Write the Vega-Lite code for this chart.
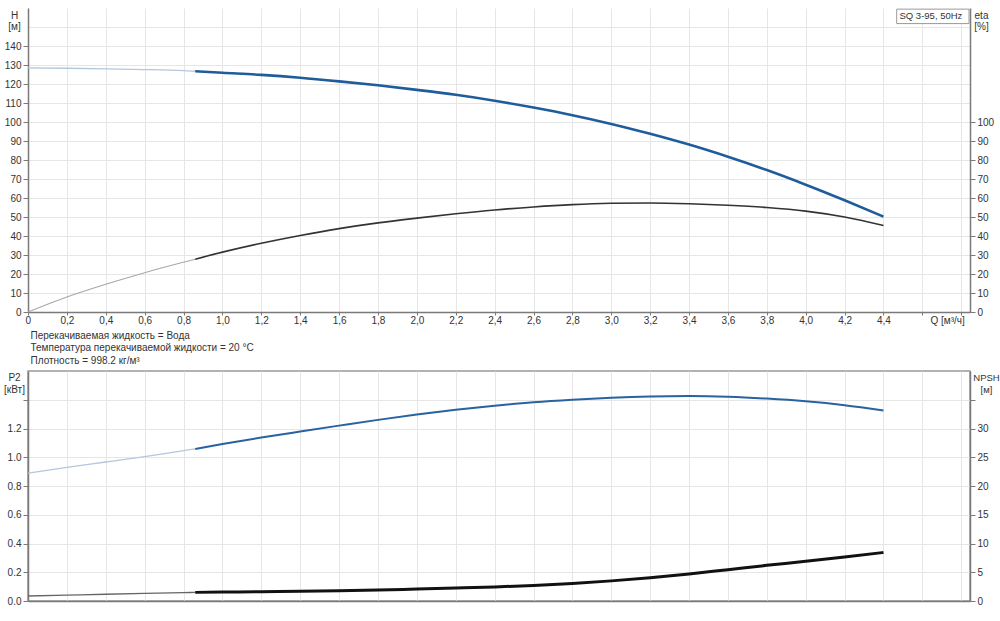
{
  "$schema": "https://vega.github.io/schema/vega-lite/v6.json",
  "background": "white",
  "padding": {"left": 2, "top": 8, "right": 0, "bottom": 0},
  "config": {
    "font": "Liberation Sans",
    "view": {"stroke": null},
    "axis": {
      "labelFont": "Liberation Sans",
      "labelFontSize": 10,
      "labelColor": "#333333",
      "domainColor": "#7a7a7a",
      "domainWidth": 1.5,
      "tickColor": "#7a7a7a",
      "tickSize": 5,
      "labelPadding": 2,
      "gridColor": "#e6e6e6",
      "gridWidth": 1,
      "titleFont": "Liberation Sans",
      "titleFontWeight": "normal",
      "titleFontSize": 10,
      "titleColor": "#333333"
    }
  },
  "datasets": {
    "curves": [
      {"Q": 0, "H": 128.5, "eta": 0, "P2": 0.889, "NPSH": 0.87, "part": "a"},
      {"Q": 0.2, "H": 128.3, "eta": 7.9, "P2": 0.930, "NPSH": 1.02, "part": "a"},
      {"Q": 0.4, "H": 128.0, "eta": 14.6, "P2": 0.967, "NPSH": 1.17, "part": "a"},
      {"Q": 0.6, "H": 127.6, "eta": 20.7, "P2": 1.005, "NPSH": 1.31, "part": "a"},
      {"Q": 0.8, "H": 127.0, "eta": 26.2, "P2": 1.046, "NPSH": 1.45, "part": "a"},
      {"Q": 0.86, "H": 126.7, "eta": 27.8, "P2": 1.058, "NPSH": 1.50, "part": "a"},
      {"Q": 0.86, "H": 126.7, "eta": 27.8, "P2": 1.058, "NPSH": 1.50, "part": "b"},
      {"Q": 1.0, "H": 125.9, "eta": 31.5, "P2": 1.092, "NPSH": 1.55, "part": "b"},
      {"Q": 1.2, "H": 124.8, "eta": 36.2, "P2": 1.137, "NPSH": 1.62, "part": "b"},
      {"Q": 1.4, "H": 123.3, "eta": 40.3, "P2": 1.179, "NPSH": 1.70, "part": "b"},
      {"Q": 1.6, "H": 121.4, "eta": 43.9, "P2": 1.220, "NPSH": 1.80, "part": "b"},
      {"Q": 1.8, "H": 119.3, "eta": 46.9, "P2": 1.260, "NPSH": 1.92, "part": "b"},
      {"Q": 2.0, "H": 116.9, "eta": 49.4, "P2": 1.297, "NPSH": 2.07, "part": "b"},
      {"Q": 2.2, "H": 114.3, "eta": 51.7, "P2": 1.330, "NPSH": 2.25, "part": "b"},
      {"Q": 2.4, "H": 111.2, "eta": 53.7, "P2": 1.358, "NPSH": 2.45, "part": "b"},
      {"Q": 2.6, "H": 107.6, "eta": 55.3, "P2": 1.382, "NPSH": 2.70, "part": "b"},
      {"Q": 2.8, "H": 103.6, "eta": 56.5, "P2": 1.400, "NPSH": 3.05, "part": "b"},
      {"Q": 3.0, "H": 99.0, "eta": 57.2, "P2": 1.414, "NPSH": 3.50, "part": "b"},
      {"Q": 3.2, "H": 93.8, "eta": 57.4, "P2": 1.423, "NPSH": 4.05, "part": "b"},
      {"Q": 3.4, "H": 88.1, "eta": 57.0, "P2": 1.426, "NPSH": 4.70, "part": "b"},
      {"Q": 3.6, "H": 81.7, "eta": 56.2, "P2": 1.421, "NPSH": 5.45, "part": "b"},
      {"Q": 3.8, "H": 74.7, "eta": 55.0, "P2": 1.408, "NPSH": 6.20, "part": "b"},
      {"Q": 4.0, "H": 67.0, "eta": 53.1, "P2": 1.389, "NPSH": 6.92, "part": "b"},
      {"Q": 4.2, "H": 58.8, "eta": 50.0, "P2": 1.362, "NPSH": 7.67, "part": "b"},
      {"Q": 4.4, "H": 50.2, "eta": 45.5, "P2": 1.326, "NPSH": 8.44, "part": "b"}
    ]
  },
  "bounds": "flush",
  "spacing": 59,
  "vconcat": [
    {
      "width": 942,
      "height": 304,
      "data": {"name": "curves"},
      "layer": [
        {
          "transform": [{"filter": "datum.part == 'a'"}],
          "mark": {"type": "line", "color": "#b3c7de", "strokeWidth": 1.3, "interpolate": "monotone"},
          "encoding": {
            "x": {
              "field": "Q",
              "type": "quantitative",
              "scale": {"domain": [0, 4.845], "nice": false, "zero": false},
              "axis": {
                "values": [0, 0.2, 0.4, 0.6, 0.8, 1.0, 1.2, 1.4, 1.6, 1.8, 2.0, 2.2, 2.4, 2.6, 2.8, 3.0, 3.2, 3.4, 3.6, 3.8, 4.0, 4.2, 4.4, 4.6, 4.8],
                "labelExpr": "datum.value > 4.7 ? 'Q [м³/ч]' : (datum.value > 4.5 ? '' : (datum.value < 0.01 ? '0' : (floor(datum.value + 0.001) + ',' + round((datum.value - floor(datum.value + 0.001)) * 10))))",
                "labelFlush": 12,
                "labelFlushOffset": 3,
                "labelOverlap": false,
                "grid": true,
                "tickSize": 3,
                "labelPadding": 0,
                "title": ["Перекачиваемая жидкость = Вода", "Температура перекачиваемой жидкости = 20 °C", "Плотность = 998.2 кг/м³"],
                "titleAnchor": "start",
                "titleAlign": "left",
                "titleBaseline": "top",
                "titleX": 2,
                "titleY": 18,
                "titleLineHeight": 12.7
              }
            },
            "y": {"field": "H", "type": "quantitative", "scale": {"domain": [0, 160], "nice": false}, "axis": null}
          }
        },
        {
          "transform": [{"filter": "datum.part == 'b'"}],
          "mark": {"type": "line", "color": "#1f5c9b", "strokeWidth": 2.6, "interpolate": "monotone"},
          "encoding": {
            "x": {"field": "Q", "type": "quantitative", "scale": {"domain": [0, 4.845], "nice": false, "zero": false}, "axis": null},
            "y": {
              "field": "H",
              "type": "quantitative",
              "scale": {"domain": [0, 160], "nice": false},
              "axis": {
                "orient": "left",
                "values": [0, 10, 20, 30, 40, 50, 60, 70, 80, 90, 100, 110, 120, 130, 140, 150],
                "labelExpr": "datum.value > 145 ? '' : datum.label",
                "tickOpacity": {"condition": {"test": "datum.value > 145", "value": 0}, "value": 1},
                "grid": true,
                "title": ["H", "[м]"],
                "titleAngle": 0,
                "titleAlign": "center",
                "titleBaseline": "top",
                "titleX": -14,
                "titleY": 2,
                "titleLineHeight": 11.5
              }
            }
          }
        },
        {
          "transform": [{"filter": "datum.part == 'a'"}],
          "mark": {"type": "line", "color": "#a8a8a8", "strokeWidth": 1.1, "interpolate": "monotone"},
          "encoding": {
            "x": {"field": "Q", "type": "quantitative", "scale": {"domain": [0, 4.845], "nice": false, "zero": false}, "axis": null},
            "y": {"field": "eta", "type": "quantitative", "scale": {"domain": [0, 160], "nice": false}, "axis": null}
          }
        },
        {
          "transform": [{"filter": "datum.part == 'b'"}],
          "mark": {"type": "line", "color": "#333333", "strokeWidth": 1.6, "interpolate": "monotone"},
          "encoding": {
            "x": {"field": "Q", "type": "quantitative", "scale": {"domain": [0, 4.845], "nice": false, "zero": false}, "axis": null},
            "y": {
              "field": "eta",
              "type": "quantitative",
              "scale": {"domain": [0, 160], "nice": false},
              "axis": {
                "orient": "right",
                "values": [0, 10, 20, 30, 40, 50, 60, 70, 80, 90, 100],
                "grid": false,
                "title": ["eta", "[%]"],
                "titleAngle": 0,
                "titleAlign": "center",
                "titleBaseline": "top",
                "titleX": 11,
                "titleY": 2,
                "titleLineHeight": 11.5
              }
            }
          }
        },
        {
          "data": {"values": [{"label": "SQ 3-95, 50Hz"}]},
          "mark": {"type": "rect", "fill": "white", "stroke": "#9a9a9a", "strokeWidth": 1},
          "encoding": {
            "x": {"datum": 4.468, "type": "quantitative", "scale": {"domain": [0, 4.845], "nice": false, "zero": false}, "axis": null},
            "x2": {"datum": 4.84},
            "y": {"datum": 159.4, "type": "quantitative", "scale": {"domain": [0, 160], "nice": false}, "axis": null},
            "y2": {"datum": 151.8}
          }
        },
        {
          "data": {"values": [{"label": "SQ 3-95, 50Hz"}]},
          "mark": {"type": "text", "fontSize": 9.5, "color": "#333333", "align": "center", "baseline": "middle"},
          "encoding": {
            "x": {"datum": 4.644, "type": "quantitative", "scale": {"domain": [0, 4.845], "nice": false, "zero": false}, "axis": null},
            "y": {"datum": 155.8, "type": "quantitative", "scale": {"domain": [0, 160], "nice": false}, "axis": null},
            "text": {"field": "label"}
          }
        }
      ],
      "resolve": {"scale": {"x": "independent"}, "axis": {"x": "independent", "y": "independent"}}
    },
    {
      "width": 942,
      "height": 230,
      "view": {"stroke": "#999999", "strokeWidth": 1.5},
      "data": {"name": "curves"},
      "encoding": {
        "x": {
          "field": "Q",
          "type": "quantitative",
          "scale": {"domain": [0, 4.845], "nice": false, "zero": false},
          "axis": {
            "values": [0, 0.2, 0.4, 0.6, 0.8, 1.0, 1.2, 1.4, 1.6, 1.8, 2.0, 2.2, 2.4, 2.6, 2.8, 3.0, 3.2, 3.4, 3.6, 3.8, 4.0, 4.2, 4.4, 4.6, 4.8],
            "labels": false,
            "ticks": false,
            "grid": true,
            "title": null
          }
        }
      },
      "layer": [
        {
          "encoding": {
            "y": {
              "field": "P2",
              "type": "quantitative",
              "scale": {"domain": [0, 1.6], "nice": false},
              "axis": {
                "orient": "left",
                "values": [0, 0.2, 0.4, 0.6, 0.8, 1.0, 1.2, 1.4],
                "labelExpr": "datum.value > 1.3 ? '' : format(datum.value, '.1f')",
                "grid": true,
                "title": ["P2", "[кВт]"],
                "titleAngle": 0,
                "titleAlign": "center",
                "titleBaseline": "top",
                "titleX": -14,
                "titleY": 1,
                "titleLineHeight": 12
              }
            }
          },
          "layer": [
            {"transform": [{"filter": "datum.part == 'a'"}], "mark": {"type": "line", "color": "#b3c7de", "strokeWidth": 1.3, "interpolate": "monotone"}},
            {"transform": [{"filter": "datum.part == 'b'"}], "mark": {"type": "line", "color": "#2862a0", "strokeWidth": 2, "interpolate": "monotone"}}
          ]
        },
        {
          "encoding": {
            "y": {
              "field": "NPSH",
              "type": "quantitative",
              "scale": {"domain": [0, 40], "nice": false},
              "axis": {
                "orient": "right",
                "values": [0, 5, 10, 15, 20, 25, 30, 35],
                "labelExpr": "datum.value > 32 ? '' : datum.label",
                "grid": false,
                "title": ["NPSH", "[м]"],
                "titleFontSize": 9.5,
                "titleAngle": 0,
                "titleAlign": "center",
                "titleBaseline": "top",
                "titleX": 16,
                "titleY": 1,
                "titleLineHeight": 12
              }
            }
          },
          "layer": [
            {"transform": [{"filter": "datum.part == 'a'"}], "mark": {"type": "line", "color": "#666666", "strokeWidth": 1.3, "interpolate": "monotone"}},
            {"transform": [{"filter": "datum.part == 'b'"}], "mark": {"type": "line", "color": "#111111", "strokeWidth": 3, "interpolate": "monotone"}}
          ]
        }
      ],
      "resolve": {"scale": {"y": "independent"}}
    }
  ]
}
